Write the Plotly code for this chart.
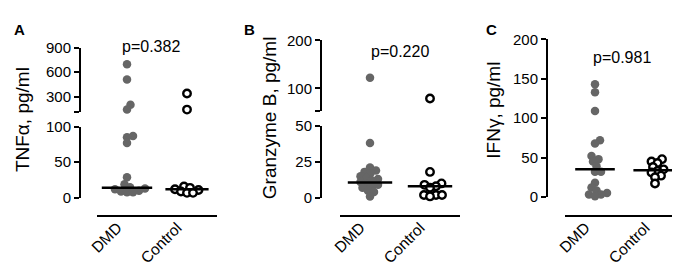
import math
import plotly.graph_objects as go

W, H = 680, 270

# ---------------- data ----------------
groups = ["DMD", "Control"]

tnf_dmd = [700, 510, 200, 140, 87, 85, 77, 29, 19, 15, 13, 12, 10, 9, 8, 8]
tnf_ctrl = [338, 139, 16, 14, 12, 11, 9, 7, 7]
tnf_median = [14, 12]
tnf_p = "p=0.382"

gzb_dmd = [122, 38, 21, 19, 18, 17, 15, 14, 13, 12, 11, 10, 9, 8, 7, 5, 4, 1]
gzb_ctrl = [79, 18, 10, 9, 8, 7, 2, 2, 2, 1]
gzb_median = [10.6, 8]
gzb_p = "p=0.220"

ifn_dmd = [143, 133, 109, 72, 68, 52, 48, 45, 39, 32, 32, 18, 12, 8, 5, 3, 3, 1]
ifn_ctrl = [48, 45, 43, 38, 35, 33, 31, 27, 25, 17]
ifn_median = [35, 34]
ifn_p = "p=0.981"

tnf_ticks_low = [0, 50, 100]
tnf_ticks_up = [300, 600, 900]
gzb_ticks_low = [0, 25, 50]
gzb_ticks_up = [100, 200]
ifn_ticks = [0, 50, 100, 150, 200]

FONT = "Liberation Sans, Arial, Helvetica, sans-serif"
GREY = "#666666"
XLAB_SIZE = 15.5

# approximate Arial advance widths (em) for the category label letters
CHAR_W = {"D": 0.722, "M": 0.833, "C": 0.722, "o": 0.556, "n": 0.556,
          "t": 0.278, "r": 0.333, "l": 0.222}

def text_w(s, size):
    return sum(CHAR_W.get(c, 0.55) for c in s) * size

def px(x):
    return x / W

def py(y):
    return 1 - y / H

fig = go.Figure()
layout = dict(
    width=W, height=H, margin=dict(l=0, r=0, t=0, b=0),
    paper_bgcolor="white", plot_bgcolor="white", showlegend=False,
    font=dict(family=FONT, color="black"),
)

panels = [
    dict(name="A", xl=89, xr=209, yax=72,
         segs=[dict(bot=193, top=117, lo=0, hi=100, ticks=tnf_ticks_low, extra=[]),
               dict(bot=101, top=33, lo=114, hi=900, ticks=tnf_ticks_up, extra=[114])],
         dmd=tnf_dmd, ctrl=tnf_ctrl, med=tnf_median, mw=[0.42, 0.36], p=tnf_p,
         pxy=(143, 31), title="TNFα, pg/ml", txy=(14, 110), lxy=(11, 13)),
    dict(name="B", xl=332, xr=452, yax=313,
         segs=[dict(bot=193, top=116, lo=0, hi=50, ticks=gzb_ticks_low, extra=[]),
               dict(bot=100, top=25, lo=53.5, hi=200, ticks=gzb_ticks_up, extra=[53.5])],
         dmd=gzb_dmd, ctrl=gzb_ctrl, med=gzb_median, mw=[0.37, 0.37], p=gzb_p,
         pxy=(392, 37), title="Granzyme B, pg/ml", txy=(261, 108), lxy=(241, 13)),
    dict(name="C", xl=557, xr=677, yax=539,
         segs=[dict(bot=192, top=24, lo=0, hi=200, ticks=ifn_ticks, extra=[])],
         dmd=ifn_dmd, ctrl=ifn_ctrl, med=ifn_median, mw=[0.33, 0.36], p=ifn_p,
         pxy=(614, 43), title="IFNγ, pg/ml", txy=(486, 100), lxy=(483, 13)),
]

XRANGE = [-0.5, 1.5]
DIAM = 6.0
LABEL_END_Y = 223  # pixel row where the rotated category labels end
LABEL_END_DX = -8  # horizontal offset of the label end from its category

def swarm(values, segs, unit_px):
    """simple beeswarm: returns (x offsets in data units, segment index)"""
    placed = []
    out = [None] * len(values)
    order = sorted(range(len(values)), key=lambda i: values[i])
    cands = [0.0]
    for k in range(1, 81):
        cands += [k * 0.5, -k * 0.5]
    for i in order:
        v = values[i]
        si = 0
        for j, s in enumerate(segs):
            if v >= s["lo"]:
                si = j
        s = segs[si]
        ypix = s["bot"] - (v - s["lo"]) / (s["hi"] - s["lo"]) * (s["bot"] - s["top"])
        for c in cands:
            if all((c - a) ** 2 + (ypix - b) ** 2 >= DIAM ** 2 for a, b in placed):
                break
        placed.append((c, ypix))
        out[i] = (c / unit_px, si)
    return out

axis_count = 0
ycount = 0
annotations = []
for p in panels:
    axis_count += 1
    xn = "xaxis" if axis_count == 1 else f"xaxis{axis_count}"
    xa = "x" if axis_count == 1 else f"x{axis_count}"
    layout[xn] = dict(
        domain=[px(p["xl"]), px(p["xr"])], range=XRANGE, anchor="free",
        position=py(212), showline=True, linecolor="black", linewidth=2,
        ticks="", showticklabels=False, showgrid=False, zeroline=False,
        fixedrange=True,
    )
    # category labels rotated 45 degrees; the text ends just under its category
    for gi, g in enumerate(groups):
        half = text_w(g, XLAB_SIZE) / 2 * math.cos(math.radians(45))
        annotations.append(dict(text=g, x=gi, y=py(LABEL_END_Y + half),
                                xref=xa, yref="paper",
                                xanchor="center", yanchor="middle",
                                xshift=LABEL_END_DX - half, textangle=-45,
                                showarrow=False,
                                font=dict(size=XLAB_SIZE, family=FONT)))
    yrefs = []
    for s in p["segs"]:
        ycount += 1
        yn = "yaxis" if ycount == 1 else f"yaxis{ycount}"
        yr = "y" if ycount == 1 else f"y{ycount}"
        tv = s["ticks"] + s["extra"]
        tt = [str(t) for t in s["ticks"]] + ["" for _ in s["extra"]]
        layout[yn] = dict(
            domain=[py(s["bot"]), py(s["top"])], range=[s["lo"], s["hi"]],
            anchor="free", position=px(p["yax"]), side="left",
            showline=True, linecolor="black", linewidth=2,
            ticks="outside", ticklen=5, tickwidth=2, tickcolor="black",
            tickvals=tv, ticktext=tt, tickfont=dict(size=15, family=FONT),
            showgrid=False, zeroline=False, fixedrange=True,
        )
        yrefs.append(yr)
    unit_px = (p["xr"] - p["xl"]) / (XRANGE[1] - XRANGE[0])
    for gi, (vals, filled) in enumerate([(p["dmd"], True), (p["ctrl"], False)]):
        sw = swarm(vals, p["segs"], unit_px)
        for si, yr in enumerate(yrefs):
            xs = [gi + sw[i][0] for i in range(len(vals)) if sw[i][1] == si]
            ys = [vals[i] for i in range(len(vals)) if sw[i][1] == si]
            if not xs:
                continue
            if filled:
                marker = dict(size=8.5, color=GREY, line=dict(width=0))
            else:
                marker = dict(size=7.5, color="white", line=dict(width=2.4, color="black"))
            fig.add_trace(go.Scatter(x=xs, y=ys, mode="markers", marker=marker,
                                     xaxis=xa, yaxis=yr, cliponaxis=False,
                                     hoverinfo="skip"))
    for gi, m in enumerate(p["med"]):
        hw = p["mw"][gi]
        fig.add_trace(go.Scatter(x=[gi - hw, gi + hw], y=[m, m], mode="lines",
                                 line=dict(color="black", width=2.5),
                                 xaxis=xa, yaxis=yrefs[0], cliponaxis=False,
                                 hoverinfo="skip"))
    annotations.append(dict(text=p["p"], x=px(p["pxy"][0]), y=py(p["pxy"][1]),
                            xref="paper", yref="paper", showarrow=False,
                            xanchor="center", yanchor="middle",
                            font=dict(size=16, family=FONT)))
    annotations.append(dict(text=p["title"], x=px(p["txy"][0]), y=py(p["txy"][1]),
                            xref="paper", yref="paper", showarrow=False,
                            xanchor="center", yanchor="middle", textangle=-90,
                            font=dict(size=19, family=FONT)))
    annotations.append(dict(text="<b>" + p["name"] + "</b>", x=px(p["lxy"][0]),
                            y=py(p["lxy"][1]), xref="paper", yref="paper",
                            showarrow=False, xanchor="center", yanchor="middle",
                            font=dict(size=15, family=FONT)))

layout["annotations"] = annotations
fig.update_layout(**layout)
fig.write_html("out.html")
